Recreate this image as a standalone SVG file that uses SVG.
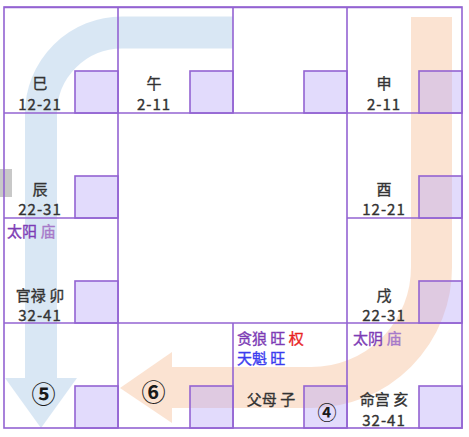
<svg xmlns="http://www.w3.org/2000/svg" width="469" height="437" viewBox="0 0 469 437">
<style>
.grid{stroke:#9363d2;stroke-width:1.6;fill:none}
.sq{fill:#b6a6f8;fill-opacity:0.4;stroke:#9363d2;stroke-width:1.6}
.t{font-family:"Noto Sans CJK SC","Noto Sans",sans-serif;font-size:15px;fill:#333;stroke:#333;stroke-width:0.35;text-anchor:middle;dominant-baseline:central}
.n{letter-spacing:1px}
.s{font-family:"Noto Sans CJK SC","Noto Sans",sans-serif;font-size:15px;stroke-width:0.35;dominant-baseline:central}
.c{font-family:"Noto Sans CJK SC","DejaVu Sans",sans-serif;font-weight:bold;fill:#1a1a1a;text-anchor:middle;dominant-baseline:central}
</style>
<rect width="469" height="437" fill="#fff"/>
<rect x="0" y="169" width="12" height="28" fill="#c8c8c8"/>
<g id="connectors">
<g id="arrow-blue" opacity="0.32">
<path d="M233,32.5 H122 A81,81 0 0 0 41,113.5 V379" fill="none" stroke="#8cb8e0" stroke-width="32"/>
<polygon points="5,378 77,378 41,428" fill="#8cb8e0"/>
</g>
<g id="arrow-orange" opacity="0.3">
<path d="M431.5,17 V267 A120,120 0 0 1 311.5,387.5 H171" fill="none" stroke="#f4a46c" stroke-width="41"/>
<polygon points="172,352 120,388 172,423" fill="#f4a46c"/>
</g>
</g>
<g id="grid">
<rect class="grid" x="4" y="7" width="458" height="421"/>
<line class="grid" x1="4" y1="7.5" x2="462" y2="7.5" stroke-width="2.2" stroke="#8454c4"/>
<line class="grid" x1="118" y1="7" x2="118" y2="428"/>
<line class="grid" x1="233" y1="7" x2="233" y2="113"/>
<line class="grid" x1="233" y1="323" x2="233" y2="428"/>
<line class="grid" x1="347" y1="7" x2="347" y2="428"/>
<line class="grid" x1="4" y1="113" x2="462" y2="113"/>
<line class="grid" x1="4" y1="218" x2="118" y2="218"/>
<line class="grid" x1="347" y1="218" x2="462" y2="218"/>
<line class="grid" x1="4" y1="323" x2="462" y2="323"/>
</g>
<g id="cells">
<g id="cell-si"><rect class="sq" x="75" y="71" width="43" height="42"/><text class="t" x="40" y="82">巳</text><text class="t n" x="40" y="103">12-21</text></g>
<g id="cell-wu"><rect class="sq" x="190" y="71" width="43" height="42"/><text class="t" x="154" y="82">午</text><text class="t n" x="154" y="103">2-11</text></g>
<g id="cell-wei"><rect class="sq" x="304" y="71" width="43" height="42"/></g>
<g id="cell-shen"><rect class="sq" x="419" y="71" width="43" height="42"/><text class="t" x="384" y="82">申</text><text class="t n" x="384" y="103">2-11</text></g>
<g id="cell-chen"><rect class="sq" x="75" y="176" width="43" height="42"/><text class="t" x="40" y="188">辰</text><text class="t n" x="40" y="208">22-31</text></g>
<g id="cell-you"><rect class="sq" x="419" y="176" width="43" height="42"/><text class="t" x="384" y="188">酉</text><text class="t n" x="384" y="208">12-21</text></g>
<g id="cell-mao"><rect class="sq" x="75" y="281" width="43" height="42"/><text class="s" x="7" y="230"><tspan fill="#7d3cb5" stroke="#7d3cb5">太阳</tspan><tspan fill="#a77ac9" stroke="#a77ac9"> 庙</tspan></text><text class="t" x="40" y="294">官禄 卯</text><text class="t n" x="40" y="314">32-41</text></g>
<g id="cell-xu"><rect class="sq" x="419" y="281" width="43" height="42"/><text class="t" x="384" y="294">戌</text><text class="t n" x="384" y="314">22-31</text></g>
<g id="cell-yin"><rect class="sq" x="75" y="386" width="43" height="42"/><text class="c" x="43.5" y="392" font-size="24">⑤</text></g>
<g id="cell-chou"><rect class="sq" x="190" y="386" width="43" height="42"/><text class="c" x="153.5" y="390" font-size="24">⑥</text></g>
<g id="cell-zi"><rect class="sq" x="304" y="386" width="43" height="42"/><text class="s" x="237" y="337"><tspan fill="#7d3cb5" stroke="#7d3cb5">贪狼 旺 </tspan><tspan fill="#e8231f" stroke="#e8231f">权</tspan></text><text class="s" x="237" y="357" fill="#3b3bef" stroke="#3b3bef">天魁 旺</text><text class="t" x="271" y="398">父母 子</text><text class="c" x="327" y="411" font-size="19">④</text></g>
<g id="cell-hai"><rect class="sq" x="419" y="386" width="43" height="42"/><text class="s" x="353" y="337"><tspan fill="#7d3cb5" stroke="#7d3cb5">太阴</tspan><tspan fill="#a77ac9" stroke="#a77ac9"> 庙</tspan></text><text class="t" x="384" y="398">命宫 亥</text><text class="t n" x="384" y="419">32-41</text></g>
</g>
</svg>
